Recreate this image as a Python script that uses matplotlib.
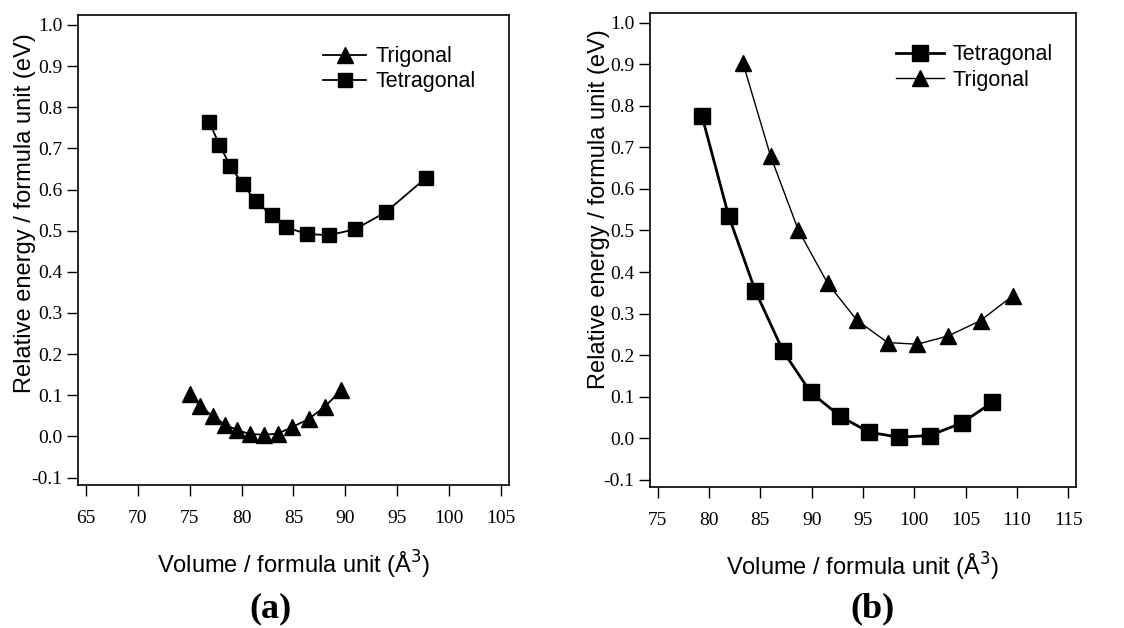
import numpy as np
from matplotlib import pyplot as plt

# (a) datos
a_tri_v = [75.0, 76.0, 77.2, 78.4, 79.6, 80.8, 82.2, 83.5, 84.9, 86.5, 88.0, 89.6]
a_tri_e = [0.102, 0.075, 0.049, 0.029, 0.015, 0.006, 0.004, 0.007, 0.023, 0.043, 0.072, 0.112]
a_tet_v = [76.9, 77.85, 78.9, 80.1, 81.4, 82.9, 84.3, 86.3, 88.4, 90.9, 93.9, 97.8]
a_tet_e = [0.763, 0.709, 0.658, 0.613, 0.571, 0.537, 0.508, 0.492, 0.489, 0.503, 0.545, 0.629]

# (b)
b_tet_v = [79.3, 81.9, 84.5, 87.2, 89.9, 92.8, 95.6, 98.5, 101.5, 104.6, 107.6]
b_tet_e = [0.777, 0.536, 0.355, 0.210, 0.110, 0.052, 0.014, 0.002, 0.006, 0.036, 0.086]
b_tri_v = [83.3, 86.0, 88.7, 91.55, 94.4, 97.4, 100.3, 103.3, 106.45, 109.6]
b_tri_e = [0.904, 0.679, 0.501, 0.373, 0.284, 0.230, 0.226, 0.246, 0.283, 0.343]

yticks = [-0.1, 0.0, 0.1, 0.2, 0.3, 0.4, 0.5, 0.6, 0.7, 0.8, 0.9, 1.0]
a_xticks = [65, 70, 75, 80, 85, 90, 95, 100, 105]
b_xticks = [75, 80, 85, 90, 95, 100, 105, 110, 115]

sans = 'Liberation Sans'
serif = 'Liberation Serif'

fig = plt.figure(figsize=(11.24, 6.28), dpi=100)
axa = fig.add_axes([0.0694, 0.2277, 0.3834, 0.7484])
axb = fig.add_axes([0.5783, 0.2245, 0.3790, 0.7548])


def estilo(ax, xticks, xlim):
    ax.set_xlim(*xlim)
    ax.set_ylim(-0.118, 1.024)
    ax.set_xticks(xticks)
    ax.set_yticks(yticks)
    ax.set_yticklabels(['%.1f' % t for t in yticks])
    ax.tick_params(direction='out', length=8, width=1, labelsize=14)
    ax.tick_params(axis='x', pad=10)
    ax.tick_params(axis='y', pad=3)
    for lab in ax.get_xticklabels() + ax.get_yticklabels():
        lab.set_fontfamily(serif)
    for s in ax.spines.values():
        s.set_linewidth(1.2)
    ax.set_xlabel('Volume / formula unit (Å$^3$)', fontsize=17, fontfamily=sans, labelpad=16)


axa.plot(a_tri_v, a_tri_e, '-^', color='black', lw=1.3, ms=11, label='Trigonal')
axa.plot(a_tet_v, a_tet_e, '-s', color='black', lw=1.3, ms=9.5, label='Tetragonal')
estilo(axa, a_xticks, (64.23, 105.77))
axa.legend(loc='upper right', bbox_to_anchor=(0.967, 0.975), frameon=False,
           prop={'family': sans, 'size': 15.5}, handlelength=2.0, handletextpad=0.4,
           labelspacing=0.2)

axb.plot(b_tet_v, b_tet_e, '-s', color='black', lw=2, ms=11.5, label='Tetragonal')
axb.plot(b_tri_v, b_tri_e, '-^', color='black', lw=1, ms=12, label='Trigonal')
estilo(axb, b_xticks, (74.25, 115.75))
axb.legend(loc='upper right', bbox_to_anchor=(0.99, 0.975), frameon=False,
           prop={'family': sans, 'size': 15.5}, handlelength=2.2, handletextpad=0.4,
           labelspacing=0.2)

# etiquetas del eje y puestas a mano (no estan centradas en el eje)
ylab = 'Relative energy / formula unit (eV)'
fig.text(25 / 1124, 1 - 213 / 628, ylab, rotation=90, fontsize=17, fontfamily=sans,
         ha='center', va='center')
fig.text(599 / 1124, 1 - 209 / 628, ylab, rotation=90, fontsize=17, fontfamily=sans,
         ha='center', va='center')

fig.text(0.241, 1 - 609 / 628, '(a)', fontsize=26, fontweight='bold', fontfamily=serif,
         ha='center', va='center')
fig.text(0.776, 1 - 609 / 628, '(b)', fontsize=26, fontweight='bold', fontfamily=serif,
         ha='center', va='center')

fig.savefig('out.png', dpi=100)
